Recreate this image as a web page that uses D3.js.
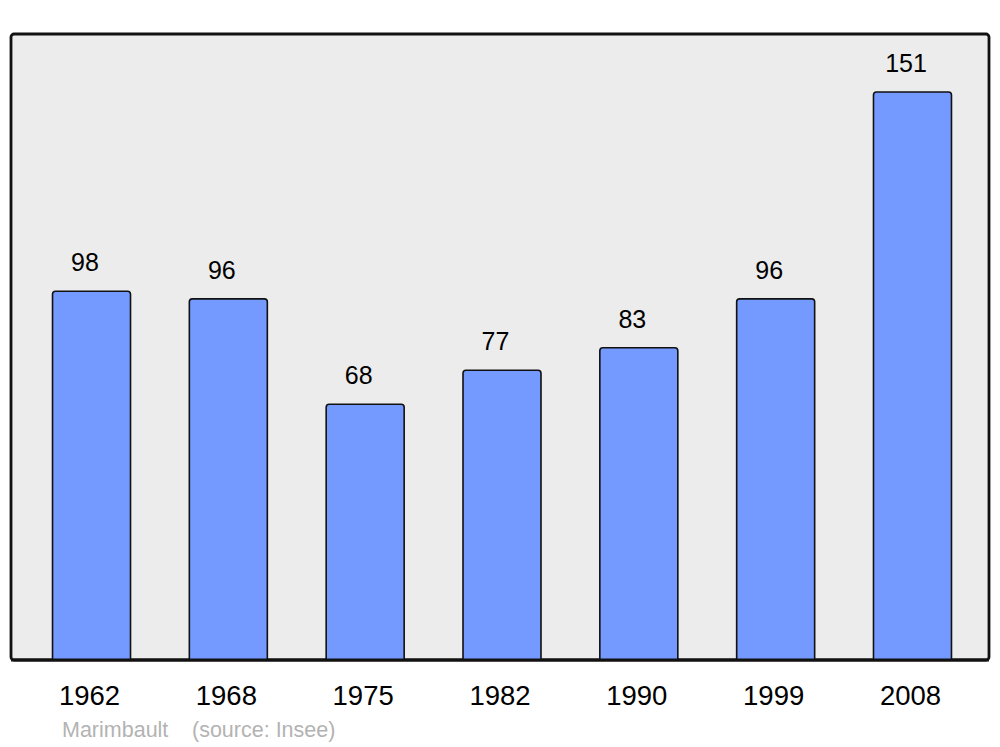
<!DOCTYPE html>
<html><head><meta charset="utf-8">
<script src="https://cdn.jsdelivr.net/npm/d3@7"></script>
<style>body{margin:0;background:#fff}svg{display:block;font-family:"Liberation Sans",Arial,sans-serif}</style>
</head><body>
<script>
const years = ["1962","1968","1975","1982","1990","1999","2008"];
const population = [98,96,68,77,83,96,151];
const placeName = "Marimbault";
const sourceText = "(source: Insee)";

const W = 1000, H = 747;
const svg = d3.select("body").append("svg").attr("width", W).attr("height", H);

const panel = {x0: 11, x1: 989, y0: 34, y1: 660};
svg.append("rect").attr("x", panel.x0).attr("y", panel.y0)
  .attr("width", panel.x1 - panel.x0).attr("height", panel.y1 - panel.y0)
  .attr("rx", 3).attr("fill", "#ececec").attr("stroke", "#111").attr("stroke-width", 2.8);

const x = d3.scaleBand().domain(years).range([23.1, 980.9]).paddingInner(0.43).paddingOuter(0.215);
const y = d3.scaleLinear().domain([0, 166.4]).range([panel.y1, panel.y0]);

function topRounded(x0, y0, w, h, r) {
  return `M${x0},${y0+h}V${y0+r}Q${x0},${y0} ${x0+r},${y0}H${x0+w-r}Q${x0+w},${y0} ${x0+w},${y0+r}V${y0+h}`;
}

const g = svg.append("g");
years.forEach((yr, i) => {
  const v = population[i];
  const bx = x(yr), bw = x.bandwidth(), by = y(v), bh = y(0) - y(v);
  g.append("path").attr("d", topRounded(bx, by, bw, bh, 3) + "Z")
    .attr("fill", "#7499ff").attr("stroke", "#111").attr("stroke-width", 1.6);
  g.append("text").attr("x", bx + bw/2 - 6.5).attr("y", by - 20)
    .attr("text-anchor", "middle").attr("font-size", 25).attr("fill", "#000").text(v);
});

// redraw bottom border over bars
svg.append("line").attr("x1", panel.x0).attr("x2", panel.x1).attr("y1", panel.y1).attr("y2", panel.y1)
  .attr("stroke", "#111").attr("stroke-width", 2.8);

const xAxis = svg.append("g").attr("transform", `translate(0,${panel.y1})`)
  .call(d3.axisBottom(x).tickSize(0).tickPadding(0));
xAxis.select(".domain").remove();
xAxis.selectAll("text").attr("font-size", 27.5).attr("fill", "#000")
  .attr("font-family", '"Liberation Sans",Arial,sans-serif')
  .attr("dy", null).attr("y", 45).attr("dx", -2);

svg.append("text").attr("x", 62).attr("y", 737).attr("font-size", 21.5).attr("fill", "#b3b3b3").text(placeName);
svg.append("text").attr("x", 192).attr("y", 737).attr("font-size", 21.5).attr("fill", "#b3b3b3").text(sourceText);
</script>
</body></html>
